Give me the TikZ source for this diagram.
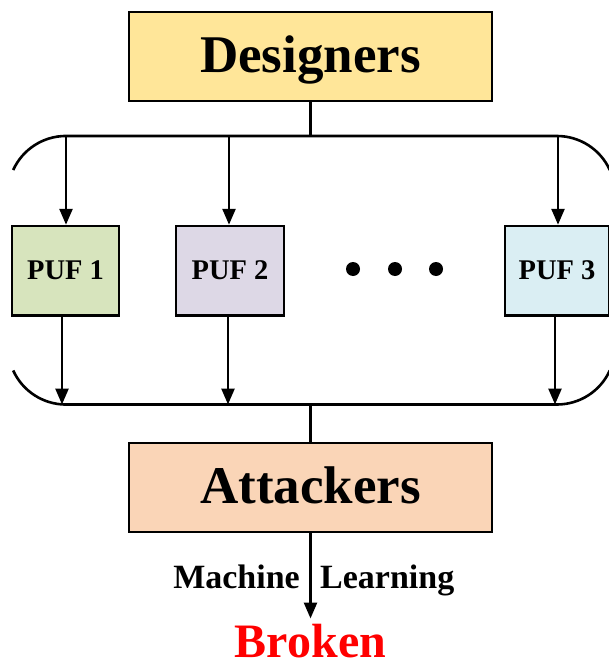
\documentclass[tikz,border=0pt]{standalone}
\usepackage{fontspec}
\setmainfont{Liberation Serif}
\usetikzlibrary{arrows.meta}

\definecolor{desfill}{HTML}{FFE699}
\definecolor{attfill}{HTML}{FAD5B7}
\definecolor{pufA}{HTML}{D7E4BD}
\definecolor{pufB}{HTML}{DDD8E6}
\definecolor{pufC}{HTML}{DAEEF3}

\tikzset{
  wire/.style={line width=2.6pt},
  flow/.style={wire, -{Triangle[length=16pt,width=13pt]}},
  rolebox/.style={draw, line width=2.6pt, inner sep=0pt,
    minimum width=363pt, minimum height=89pt,
    text height=31pt, text depth=0pt,
    font=\bfseries\fontsize{53}{60}\selectfont},
  pufbox/.style={draw, line width=2.6pt, inner sep=0pt,
    minimum height=89.5pt, text height=17pt, text depth=0pt,
    font=\bfseries\fontsize{28.5}{34}\selectfont},
  mltext/.style={inner sep=0pt, font=\bfseries\fontsize{34}{40}\selectfont},
  dot/.style={fill=black, circle, inner sep=0pt, minimum size=14pt}
}

\begin{document}
\begin{tikzpicture}[x=1pt, y=-1pt]
\useasboundingbox (0,0) rectangle (609,669);

% top and bottom roles
\node[rolebox, fill=desfill] (des) at (310.5,56.5) {Designers};
\node[rolebox, fill=attfill] (att) at (310.5,487.5) {Attackers};

% the PUF instances
\node[pufbox, fill=pufA, minimum width=107pt] (p1) at (65.5,270.8) {PUF 1};
\node[pufbox, fill=pufB, minimum width=108pt] (p2) at (230,270.8) {PUF 2};
\node[pufbox, fill=pufC, minimum width=104pt] (p3) at (557,270.8) {PUF 3};
\node[dot] (d1) at (353,269) {};
\node[dot] (d2) at (395,269) {};
\node[dot] (d3) at (436,269) {};

% distribution rail (top) and collection rail (bottom)
\coordinate (tl) at (66,136);
\coordinate (tr) at (557,136);
\coordinate (bl) at (66,404.5);
\coordinate (br) at (557,404.5);
\draw[wire] (13.2,170) arc[start angle=204.4, end angle=270, radius=58]
  -- (tr) arc[start angle=270, end angle=335.6, radius=58];
\draw[wire] (13.2,370.5) arc[start angle=155.6, end angle=90, radius=58]
  -- (br) arc[start angle=90, end angle=24.4, radius=58];

% links between roles and rails
\draw[wire] (des.south) -- (des.south |- tl);
\draw[wire] (att.north |- bl) -- (att.north);

% rail -> PUF arrows
\coordinate (a1) at (66,136);
\coordinate (a2) at (229,136);
\coordinate (a3) at (558,136);
\draw[flow] (a1) -- (a1 |- p1.north);
\draw[flow] (a2) -- (a2 |- p2.north);
\draw[flow] (a3) -- (a3 |- p3.north);

% PUF -> rail arrows
\coordinate (b1) at (62,404.5);
\coordinate (b2) at (228,404.5);
\coordinate (b3) at (555,404.5);
\draw[flow] (b1 |- p1.south) -- (b1);
\draw[flow] (b2 |- p2.south) -- (b2);
\draw[flow] (b3 |- p3.south) -- (b3);

% outcome
\node[inner sep=0pt, text=red, font=\bfseries\fontsize{48}{56}\selectfont,
      anchor=base] (brk) at (310.5,657) {Broken};
\draw[flow, shorten >=5pt] (att.south) -- (att.south |- brk.north);
\node[mltext, anchor=base east] (ml1) at (300,588) {Machine};
\node[mltext, anchor=base west] (ml2) at (320,588) {Learning};

\end{tikzpicture}
\end{document}
